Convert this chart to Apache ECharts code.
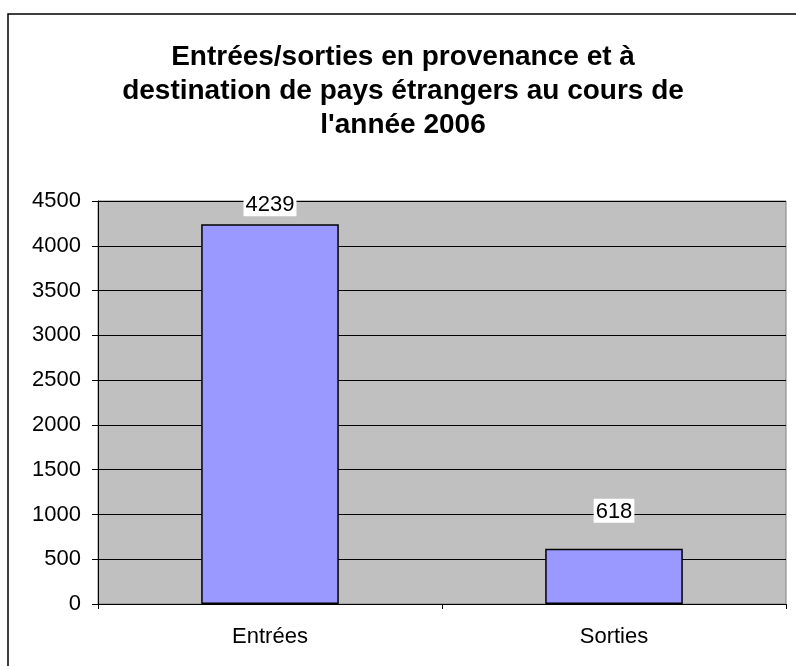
<!DOCTYPE html>
<html>
<head>
<meta charset="utf-8">
<script src="https://cdn.jsdelivr.net/npm/echarts@6/dist/echarts.min.js"></script>
<style>
  html, body { margin: 0; padding: 0; background: #fff; }
  #main { width: 796px; height: 666px; }
</style>
</head>
<body>
<div id="main"></div>
<script>
// chart data
const categories = ['Entrées', 'Sorties']
const values = [4239, 618]
const labelGaps = [8, 26]   // Excel puts the labels at uneven heights
const titleText = 'Entrées/sorties en provenance et à\ndestination de pays étrangers au cours de\nl\'année 2006'

const font = '"Liberation Sans", Arial, sans-serif'

const myChart = echarts.init(document.getElementById('main'))

const option = {
  backgroundColor: '#fff',
  animation: false,
  title: {
    text: titleText,
    left: 398,
    top: 35,
    textAlign: 'center',
    textStyle: {
      fontFamily: font,
      fontWeight: 'bold',
      fontSize: 28,
      lineHeight: 34,
      color: '#000'
    }
  },
  graphic: [
    {
      type: 'rect',
      shape: { x: 8, y: 14, width: 820, height: 700 },
      style: { fill: 'none', stroke: '#000', lineWidth: 1.5 },
      silent: true
    }
  ],
  grid: {
    left: 98,
    right: 10,
    top: 201,
    bottom: 62,
    show: true,
    backgroundColor: '#C0C0C0',
    borderColor: '#808080',
    borderWidth: 1
  },
  xAxis: {
    type: 'category',
    data: categories,
    axisLine: { lineStyle: { color: '#000', width: 1 } },
    axisTick: { show: true, length: 5, lineStyle: { color: '#000' } },
    axisLabel: { fontFamily: font, fontSize: 22, color: '#000', margin: 22 }
  },
  yAxis: {
    type: 'value',
    min: 0,
    max: 4500,
    interval: 500,
    axisLine: { show: true, lineStyle: { color: '#000', width: 1 } },
    axisTick: { show: true, length: 6, lineStyle: { color: '#000' } },
    splitLine: { lineStyle: { color: '#000', width: 1 } },
    axisLabel: {
      fontFamily: font, fontSize: 22, color: '#000', margin: 17,
      formatter: v => String(v)
    }
  },
  series: [
    {
      type: 'bar',
      barCategoryGap: '60%',
      data: values.map((v, i) => ({
        value: v,
        label: { distance: labelGaps[i] }
      })),
      itemStyle: { color: '#9999FF', borderColor: '#000', borderWidth: 1.5 },
      label: {
        show: true,
        position: 'top',
        fontFamily: font,
        fontSize: 22,
        color: '#000',
        backgroundColor: '#fff',
        padding: [2, 2, 0, 2]
      }
    }
  ]
}

myChart.setOption(option)
</script>
</body>
</html>
